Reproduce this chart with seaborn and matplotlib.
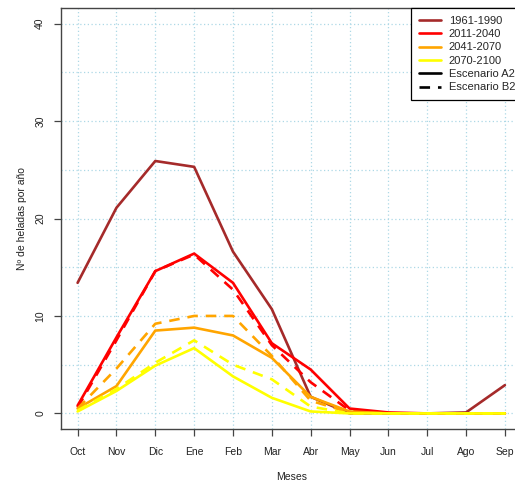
import numpy as np
import pandas as pd
import matplotlib
matplotlib.use("Agg")
import matplotlib.pyplot as plt
from matplotlib.lines import Line2D
import seaborn as sns

months = ["Oct", "Nov", "Dic", "Ene", "Feb", "Mar", "Abr", "May", "Jun", "Jul", "Ago", "Sep"]

obs_1961_1990 = [13.4, 21.1, 25.9, 25.3, 16.6, 10.7, 1.7, 0.0, 0.0, 0.0, 0.1, 2.9]

a2_2011_2040 = [0.8, 7.8, 14.6, 16.4, 13.4, 7.2, 4.5, 0.5, 0.1, 0.0, 0.0, 0.0]
b2_2011_2040 = [0.6, 7.5, 14.6, 16.3, 12.7, 7.0, 3.2, 0.3, 0.0, 0.0, 0.0, 0.0]

a2_2041_2070 = [0.5, 2.8, 8.5, 8.8, 8.0, 5.7, 1.7, 0.2, 0.0, 0.0, 0.0, 0.0]
b2_2041_2070 = [0.5, 4.6, 9.2, 10.0, 10.0, 5.9, 1.3, 0.1, 0.0, 0.0, 0.0, 0.0]

a2_2070_2100 = [0.2, 2.3, 4.9, 6.7, 3.8, 1.6, 0.2, 0.0, 0.0, 0.0, 0.0, 0.0]
b2_2070_2100 = [0.3, 2.5, 5.2, 7.5, 5.0, 3.5, 0.7, 0.0, 0.0, 0.0, 0.0, 0.0]

periods = ["1961-1990", "2011-2040", "2041-2070", "2070-2100"]
scenarios = ["Escenario A2", "Escenario B2"]
colors = ["#A52A2A", "#FF0000", "#FFA500", "#FFFF00"]

series = [
    ("1961-1990", "Escenario A2", obs_1961_1990),
    ("2011-2040", "Escenario A2", a2_2011_2040),
    ("2011-2040", "Escenario B2", b2_2011_2040),
    ("2041-2070", "Escenario A2", a2_2041_2070),
    ("2041-2070", "Escenario B2", b2_2041_2070),
    ("2070-2100", "Escenario A2", a2_2070_2100),
    ("2070-2100", "Escenario B2", b2_2070_2100),
]

rows = []
for period, scen, vals in series:
    for i, v in enumerate(vals):
        rows.append({"mes": i + 1, "heladas": v, "periodo": period, "escenario": scen})
df = pd.DataFrame(rows)

sns.set_style("white")
plt.rcParams["font.family"] = ["Liberation Sans", "DejaVu Sans"]

fig = plt.figure(figsize=(5.15, 4.83), dpi=100)
W, H = 515, 483
x0, x1 = 60.5, 522.0
y_top, y_bot = 8.0, 429.0
ax = fig.add_axes([x0 / W, (H - y_bot) / H, (x1 - x0) / W, (y_bot - y_top) / H])

lw = 1.9
dash = (4, 3)
color_of = dict(zip(periods, colors))
for period, scen, _ in series:
    sub = df[(df["periodo"] == period) & (df["escenario"] == scen)]
    sns.lineplot(data=sub, x="mes", y="heladas", ax=ax, color=color_of[period],
                 lw=lw, legend=False)
    if scen == "Escenario B2":
        ax.lines[-1].set_dashes(dash)
        ax.lines[-1].set_dash_capstyle("butt")

ax.set_xlim(0.56, 12.44)
ax.set_ylim(-1.6, 41.6)
ax.set_xticks(range(1, 13))
ax.set_xticklabels(months)
ax.set_yticks([0, 10, 20, 30, 40])
for t in ax.get_yticklabels():
    t.set_rotation(90)
    t.set_va("center")

# dotted light-blue reference grid
ax.grid(False)
for x in range(1, 13):
    ax.axvline(x, color="#ADD8E6", lw=0.9, ls=(0, (1, 2)), zorder=0)
for y in np.arange(0, 41, 5):
    ax.axhline(y, color="#ADD8E6", lw=0.9, ls=(0, (1, 2)), zorder=0)

for side in ["left", "bottom", "top", "right"]:
    ax.spines[side].set_visible(True)
    ax.spines[side].set_color("#444444")
    ax.spines[side].set_linewidth(1.0)

ax.tick_params(axis="both", which="major", direction="out", length=5, width=0.9,
               color="#444444", labelsize=7.5, labelcolor="#222222", pad=6,
               bottom=True, left=True)
ax.tick_params(axis="x", pad=8)

ax.set_xlabel("Meses", fontsize=7.5, color="#222222", labelpad=11)
ax.set_ylabel("Nº de heladas por año", fontsize=7.5, color="#222222", labelpad=6)

handles = [Line2D([0], [0], color=c, lw=lw) for c in colors]
handles.append(Line2D([0], [0], color="black", lw=lw))
handles.append(Line2D([0], [0], color="black", lw=lw, dashes=dash, dash_capstyle="butt"))
labels = periods + scenarios
leg = ax.legend(handles, labels, loc="upper left", bbox_to_anchor=((411 - x0) / (x1 - x0), 1.0),
                fontsize=8, frameon=True, fancybox=False, borderaxespad=0,
                handlelength=2.0, handletextpad=0.7, labelspacing=0.3,
                borderpad=0.7)
leg.get_frame().set_edgecolor("black")
leg.get_frame().set_linewidth(0.9)
leg.get_frame().set_alpha(1.0)

fig.savefig("out.png", dpi=100)
